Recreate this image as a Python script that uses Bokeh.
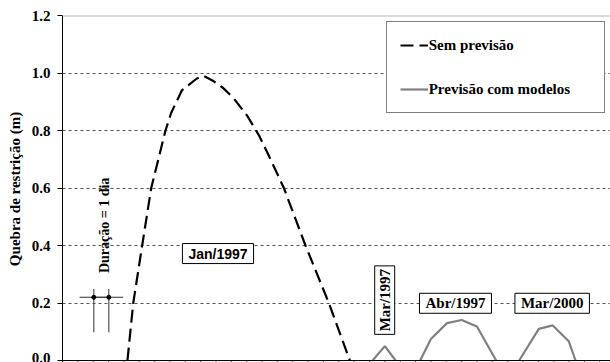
from bokeh.plotting import figure
from bokeh.models import (Range1d, FixedTicker, PrintfTickFormatter, Span, Label,
                          Legend, LegendItem, ColumnDataSource, Whisker)
from bokeh.embed import file_html
from bokeh.resources import INLINE
import math

# --- data (x in days, y in metres) ---
sem_t = [4.23, 4.61, 5.19, 5.78, 6.71, 7.07, 7.78, 8.73, 9.19, 9.77, 10.42,
         11.14, 12.05, 12.83, 13.55, 14.42, 15.83, 17.35, 18.72]
sem_v = [0.0, 0.2, 0.4, 0.6, 0.8, 0.86, 0.94, 0.98, 0.99, 0.974, 0.95,
         0.913, 0.85, 0.78, 0.70, 0.60, 0.40, 0.20, 0.0]

mar97_t = [20.2, 21.0, 21.7]
mar97_v = [0.0, 0.05, 0.0]
abr97_t = [23.3, 24.0, 25.05, 26.0, 27.0, 28.25]
abr97_v = [0.0, 0.075, 0.13, 0.141, 0.118, 0.0]
mar00_t = [29.75, 31.03, 31.94, 32.98, 33.42]
mar00_v = [0.0, 0.11, 0.122, 0.067, 0.0]

dur_x = [2.04, 3.02]
dur_y = [0.22, 0.22]
dur_xlo = [1.11, 2.09]
dur_xhi = [2.97, 3.95]
dur_ylo = [0.098, 0.098]
dur_yhi = [0.249, 0.249]

y_ticks = [0.0, 0.2, 0.4, 0.6, 0.8, 1.0, 1.2]
grid_ticks = [0.2, 0.4, 0.6, 0.8, 1.0]
x_ticks = list(range(1, 36))

SERIF = "Liberation Serif"
SANS = "Liberation Sans"

p = figure(width=610, height=362, output_backend="svg", toolbar_location=None,
           x_range=Range1d(0, 35.7), y_range=Range1d(-2 / 287.5, 1.2),
           min_border_left=62, min_border_top=15, min_border_right=0,
           min_border_bottom=0)
p.outline_line_color = None
p.background_fill_color = "white"
p.xaxis.visible = False
p.xgrid.visible = False

p.yaxis.ticker = FixedTicker(ticks=y_ticks)
p.yaxis.formatter = PrintfTickFormatter(format="%.1f")
p.yaxis.major_label_text_font = SERIF
p.yaxis.major_label_text_font_style = "bold"
p.yaxis.major_label_text_font_size = "15px"
p.yaxis.major_label_text_color = "black"
p.yaxis.major_tick_out = 5
p.yaxis.major_tick_in = 0
p.yaxis.minor_tick_out = 0
p.yaxis.minor_tick_in = 0
p.yaxis.major_label_standoff = 7
p.yaxis.axis_line_color = "black"
p.yaxis.major_tick_line_color = "black"
p.yaxis.axis_label = "Quebra de restrição (m)"
p.yaxis.axis_label_text_font = SERIF
p.yaxis.axis_label_text_font_style = "bold"
p.yaxis.axis_label_text_font_size = "15px"
p.yaxis.axis_label_text_color = "black"
p.yaxis.axis_label_standoff = 6

p.ygrid.ticker = FixedTicker(ticks=grid_ticks)
p.ygrid.grid_line_color = "#555555"
p.ygrid.grid_line_dash = "3 3"
p.ygrid.grid_line_width = 1

p.add_layout(Span(location=1.2, dimension="width", line_color="#b8b8b8", line_width=2))

# x axis line and ticks
p.add_layout(Span(location=0, dimension="width", line_color="black", line_width=1))
p.segment(x0=x_ticks, y0=[0] * len(x_ticks), x1=x_ticks, y1=[-2 / 287.5] * len(x_ticks),
          line_color="#444444", line_width=1)

# curves
r_sem = p.line(sem_t, sem_v, line_color="black", line_width=2.2, line_dash="13 6")
r_prev = p.multi_line(xs=[mar97_t, abr97_t, mar00_t], ys=[mar97_v, abr97_v, mar00_v],
                      line_color="#808080", line_width=2.2)

# duration error bars
src = ColumnDataSource(dict(x=dur_x, y=dur_y, xlo=dur_xlo, xhi=dur_xhi,
                            ylo=dur_ylo, yhi=dur_yhi))
p.segment(x0="xlo", y0="y", x1="xhi", y1="y", source=src, line_color="#333333", line_width=1)
p.segment(x0="x", y0="ylo", x1="x", y1="yhi", source=src, line_color="#333333", line_width=1)
p.scatter("x", "y", source=src, size=4, color="black")

# annotations
def boxed(x, y, text, font, angle=0.0, pad=None):
    pad = pad or dict(left=6, right=6, top=2, bottom=2)
    shadow = Label(x=x, y=y, text=text, text_font=font, text_font_style="bold",
                   text_font_size="15px" if font == SERIF else "14px",
                   text_align="center", text_baseline="middle", angle=angle,
                   x_offset=2, y_offset=-2, text_alpha=0.0,
                   background_fill_color="#8c8c8c", padding=pad)
    lab = Label(x=x, y=y, text=text, text_font=font, text_font_style="bold",
                text_font_size="15px" if font == SERIF else "14px",
                text_color="black",
                text_align="center", text_baseline="middle", angle=angle,
                background_fill_color="white", border_line_color="black",
                border_line_width=1, padding=pad)
    p.add_layout(shadow)
    p.add_layout(lab)

boxed(10.13, 0.372, "Jan/1997", SANS)
boxed(20.99, 0.21, "Mar/1997", SERIF, angle=math.pi / 2,
      pad=dict(left=3, right=3, top=2, bottom=2))
boxed(25.6, 0.199, "Abr/1997", SERIF)
boxed(31.9, 0.199, "Mar/2000", SERIF)

p.add_layout(Label(x=2.72, y=0.47, text="Duração = 1 dia", text_font=SERIF,
                   text_font_style="bold", text_font_size="14px", text_color="black",
                   text_align="center", text_baseline="middle", angle=math.pi / 2))

legend = Legend(items=[LegendItem(label="Sem previsão", renderers=[r_sem]),
                       LegendItem(label="Previsão com modelos", renderers=[r_prev])],
                location=(323.7, 248.7), orientation="vertical",
                border_line_color="black", border_line_width=1,
                background_fill_color="white", background_fill_alpha=1.0,
                padding=13, spacing=24, margin=0,
                glyph_width=28, glyph_height=20, label_height=20, label_width=162,
                label_standoff=1,
                label_text_font=SERIF, label_text_font_style="bold",
                label_text_font_size="15px", label_text_color="black")
p.add_layout(legend)

open("out.html", "w").write(file_html(p, INLINE))
